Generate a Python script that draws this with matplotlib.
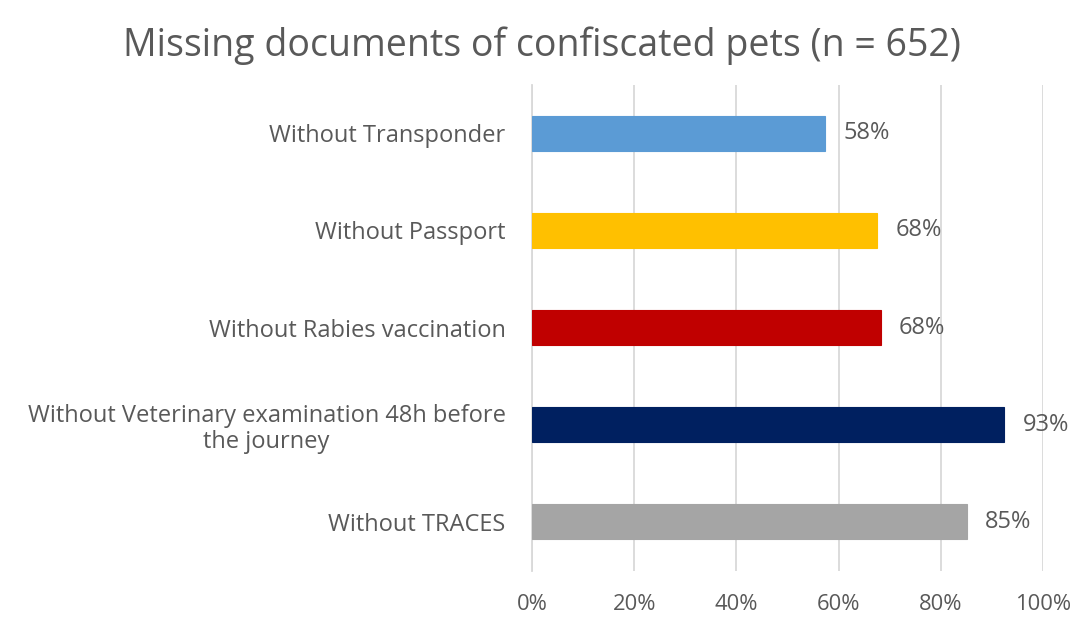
import numpy as np
import matplotlib
matplotlib.use('Agg')
import matplotlib.pyplot as plt

plt.rcParams['font.family'] = ['Open Sans', 'DejaVu Sans']

#-----------------------
# Data
#-----------------------

cats = ['Without Transponder', 'Without Passport', 'Without Rabies vaccination',
        'Without Veterinary examination 48h before\nthe journey', 'Without TRACES']
vals = [57.4, 67.6, 68.2, 92.4, 85.1] # percent
vlabels = ['58%', '68%', '68%', '93%', '85%']
cols = ['#5B9BD5', '#FFC000', '#C00000', '#002060', '#A5A5A5']
xticks = [0, 20, 40, 60, 80, 100]

#-----------------------
# Plot
#-----------------------

txtc = '#595959'
fig = plt.figure(figsize=(10.84, 6.27), dpi=100)
ax = fig.add_axes([0.4908, 0.09, 0.4714, 0.775])

y = np.arange(len(cats))
ax.barh(y, vals, height=0.36, color=cols, edgecolor=cols, lw=0.8, zorder=3)
for yi, v, l in zip(y, vals, vlabels):
    ax.text(v + 3.6, yi, l, va='center', ha='left', fontsize=17, color=txtc)

ax.set_xlim(0, 100)
ax.set_ylim(len(cats) - 0.5, -0.5)
ax.set_xticks(xticks)
ax.set_xticklabels(['%i%%' % t for t in xticks], fontsize=15.8, color=txtc)
ax.set_yticks(y)
ax.set_yticklabels(cats, fontsize=17, color=txtc, multialignment='center', linespacing=1.1)
ax.tick_params(axis='both', length=0)
ax.tick_params(axis='y', pad=19)
ax.tick_params(axis='x', pad=17)
ax.grid(axis='x', color='#D9D9D9', lw=1.3, zorder=0)
for s in ['top', 'right', 'bottom']:
    ax.spines[s].set_visible(False)
ax.spines['left'].set_color('#D9D9D9')
ax.spines['left'].set_linewidth(1.3)

fig.text(0.5, 0.927, 'Missing documents of confiscated pets (n = 652)',
         ha='center', va='center', fontsize=27, color=txtc)

plt.savefig('out.png', dpi=100)
